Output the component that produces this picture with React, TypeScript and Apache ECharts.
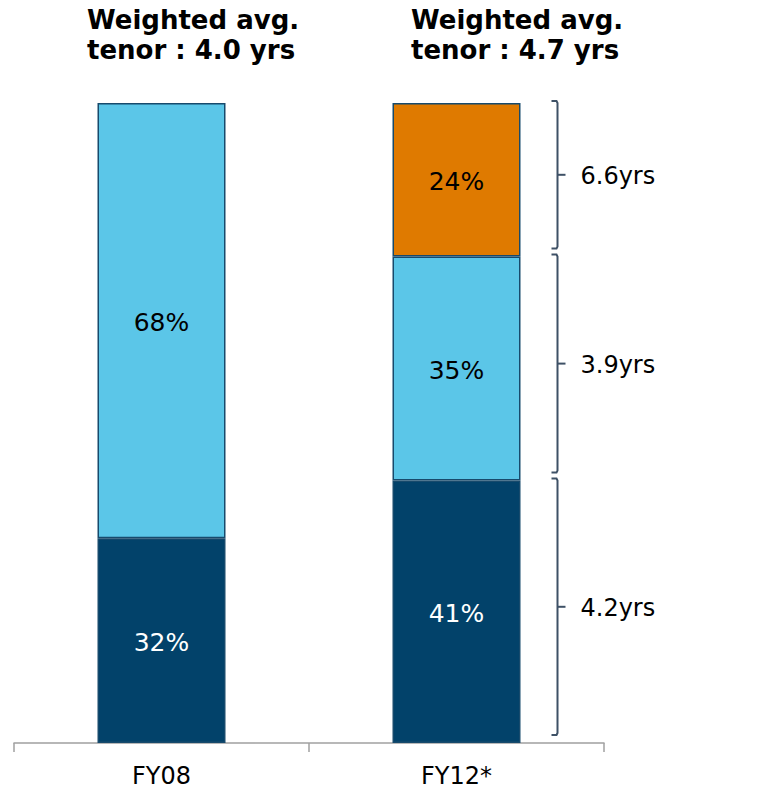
import React, { useEffect, useRef } from "react";
import * as echarts from "echarts";

const categories = ["FY08", "FY12*"];
const bottomShare = [32, 41];
const middleShare = [68, 35];
const topShare: (number | null)[] = [null, 24];
const tenorLabels = ["4.2yrs", "3.9yrs", "6.6yrs"];
const titleLines = [
  ["Weighted avg.", "tenor : 4.0 yrs"],
  ["Weighted avg.", "tenor : 4.7 yrs"],
];

const FONT = "'DejaVu Sans', Verdana, sans-serif";
const DARK = "#02426A";
const LIGHT = "#5BC6E8";
const ORANGE = "#DF7A00";
const BORDER = "#174A6C";

export default function App() {
  const ref = useRef<HTMLDivElement>(null);
  useEffect(() => {
    document.body.style.margin = "0";
    if (!ref.current) return;
    const chart = echarts.init(ref.current, undefined, { renderer: "svg" });

    const b0 = bottomShare[1];
    const b1 = b0 + middleShare[1];
    const b2 = b1 + (topShare[1] || 0);
    const bracketData = [
      [1, 0, b0, tenorLabels[0]],
      [1, b0, b1, tenorLabels[1]],
      [1, b1, b2, tenorLabels[2]],
    ];

    const labelStyle = (color: string) => ({
      show: true,
      position: "inside" as const,
      formatter: "{c}%",
      fontSize: 25,
      fontFamily: FONT,
      color,
      offset: [0, 2],
    });

    const titleStyle = { fontSize: 26, fontWeight: "bold", fontFamily: FONT, color: "#000", lineHeight: 30 };

    chart.setOption({
      animation: false,
      title: [
        { text: titleLines[0].join("\n"), left: 87, top: 5, padding: 0, textStyle: titleStyle },
        { text: titleLines[1].join("\n"), left: 411, top: 5, padding: 0, textStyle: titleStyle },
      ],
      grid: { left: 14, right: 165, top: 103, bottom: 49, containLabel: false },
      xAxis: {
        type: "category",
        data: categories,
        axisLine: { show: true, lineStyle: { color: "#A0A0A0", width: 1.5 } },
        axisTick: { show: true, length: 9, lineStyle: { color: "#A0A0A0", width: 1.5 } },
        axisLabel: { fontSize: 24, fontFamily: FONT, color: "#000", margin: 20, lineHeight: 26 },
      },
      yAxis: { type: "value", min: 0, max: 100, show: false },
      series: [
        {
          type: "bar",
          stack: "s",
          barWidth: 128,
          data: bottomShare,
          itemStyle: { color: DARK, borderColor: BORDER, borderWidth: 1.5 },
          label: labelStyle("#fff"),
        },
        {
          type: "bar",
          stack: "s",
          barWidth: 128,
          data: middleShare,
          itemStyle: { color: LIGHT, borderColor: BORDER, borderWidth: 1.5 },
          label: labelStyle("#000"),
        },
        {
          type: "bar",
          stack: "s",
          barWidth: 128,
          data: topShare,
          itemStyle: { color: ORANGE, borderColor: BORDER, borderWidth: 1.5 },
          label: labelStyle("#000"),
        },
        {
          type: "custom",
          data: bracketData,
          silent: true,
          renderItem: (params: any, api: any) => {
            const cat = api.value(0);
            const s = api.value(1);
            const e = api.value(2);
            const label = bracketData[params.dataIndex][3] as string;
            const pTop = api.coord([cat, e]);
            const pBot = api.coord([cat, s]);
            const x = pTop[0] + 101;
            const y1 = pTop[1] - 2;
            const y2 = pBot[1] - 8;
            const ym = (y1 + y2) / 2;
            const stroke = { stroke: "#3E5166", lineWidth: 2, fill: "none" };
            return {
              type: "group",
              children: [
                {
                  type: "polyline",
                  shape: { points: [[x - 6, y1], [x - 1, y1], [x, y1 + 2], [x, y2 - 2], [x - 1, y2], [x - 6, y2]] },
                  style: stroke,
                },
                { type: "line", shape: { x1: x, y1: ym, x2: x + 8, y2: ym }, style: stroke },
                {
                  type: "text",
                  x: x + 23,
                  y: ym + 1,
                  style: { text: label, fontSize: 24, fontFamily: FONT, fill: "#000", verticalAlign: "middle", align: "left" },
                },
              ],
            };
          },
        },
      ],
    });
    return () => chart.dispose();
  }, []);
  return <div ref={ref} style={{ width: 769, height: 792 }} />;
}
